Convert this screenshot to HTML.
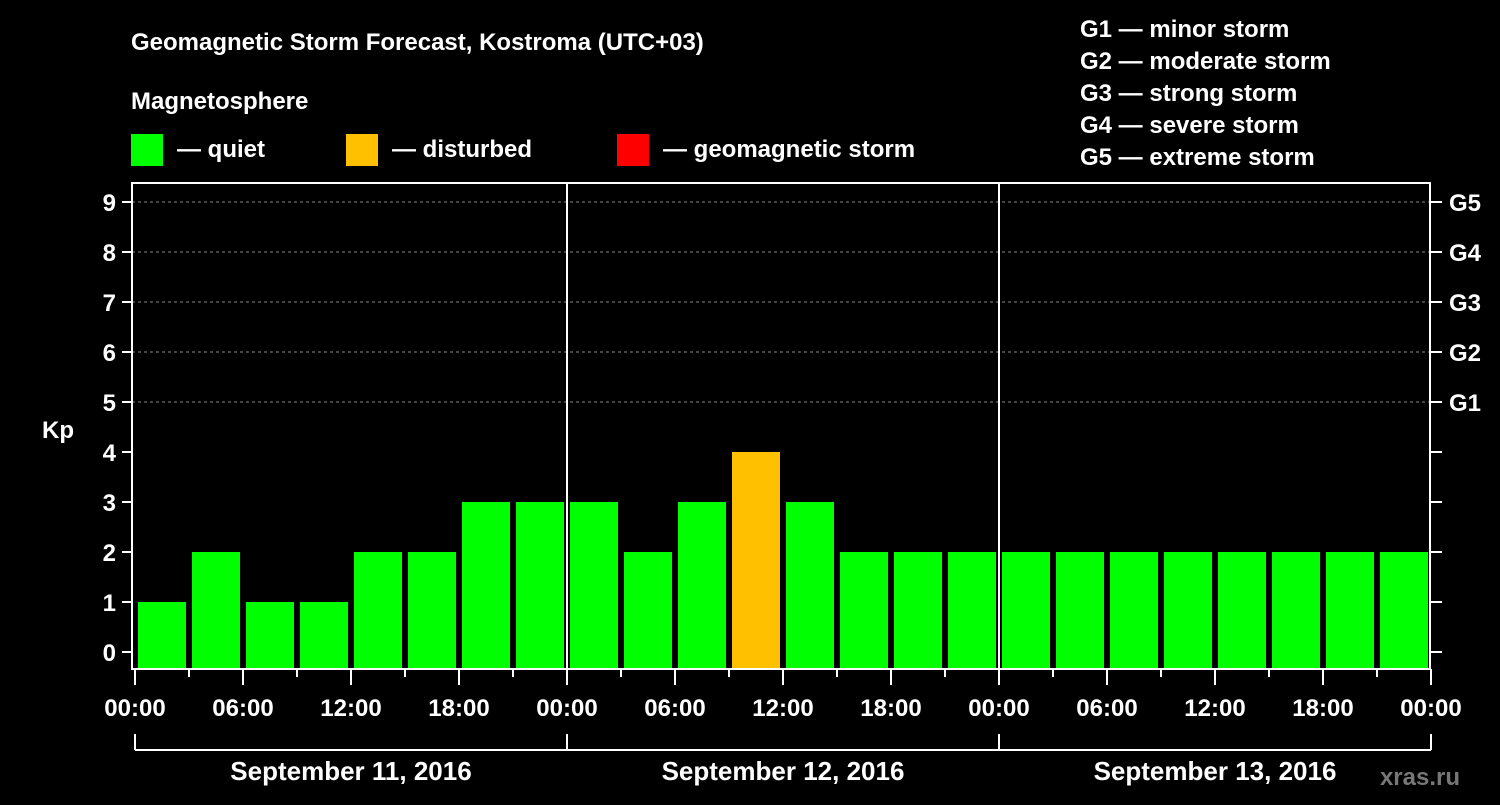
<!DOCTYPE html>
<html><head><meta charset="utf-8"><style>
body{margin:0;background:#000;width:1500px;height:800px;overflow:hidden}
svg text{font-family:"Liberation Sans",Arial,sans-serif;font-weight:bold;fill:#fff}
</style></head><body>
<svg id="c" width="1500" height="800">
<text x="131" y="50" font-size="24">Geomagnetic Storm Forecast, Kostroma (UTC+03)</text>
<text x="131" y="109" font-size="24">Magnetosphere</text>
<g><rect x="131" y="134" width="32" height="32" fill="#00ff00"/><text x="177" y="157" font-size="24">— quiet</text></g>
<g><rect x="346" y="134" width="32" height="32" fill="#ffc000"/><text x="392" y="157" font-size="24">— disturbed</text></g>
<g><rect x="617" y="134" width="32" height="32" fill="#ff0000"/><text x="663" y="157" font-size="24">— geomagnetic storm</text></g>
<g font-size="24">
<text x="1080" y="37">G1 — minor storm</text><text x="1080" y="69">G2 — moderate storm</text><text x="1080" y="101">G3 — strong storm</text><text x="1080" y="133">G4 — severe storm</text><text x="1080" y="165">G5 — extreme storm</text></g>
<text x="42" y="438" font-size="24">Kp</text>
<text x="1460" y="785" font-size="24" text-anchor="end" fill="#888" style="fill:#777">xras.ru</text>
<g id="plot"></g>
</svg>
<script>
const kpValues=[1,2,1,1,2,2,3,3,3,2,3,4,3,2,2,2,2,2,2,2,2,2,2,2];
const yTicks=[0,1,2,3,4,5,6,7,8,9];
const gLabels=["G1","G2","G3","G4","G5"];
const hourLabels=["00:00","06:00","12:00","18:00","00:00","06:00","12:00","18:00","00:00","06:00","12:00","18:00","00:00"];
const dayLabels=["September 11, 2016","September 12, 2016","September 13, 2016"];
const NS="http://www.w3.org/2000/svg";
const plot=document.getElementById('plot');
const X=h=>135+h*18;
const Y=v=>652-v*50;
function mk(tag,attrs,parent){const e=document.createElementNS(NS,tag);for(const k in attrs)e.setAttribute(k,attrs[k]);(parent||plot).appendChild(e);return e;}
// grid
for(const v of yTicks){
  if(v>=5){const l=mk('line',{x1:132,x2:1430,y1:Y(v),y2:Y(v),stroke:'#888','stroke-dasharray':'3,3','stroke-width':1});
  
  }
  const t=mk('line',{x1:122,x2:132,y1:Y(v),y2:Y(v),stroke:'#fff','stroke-width':2});
  const t2=mk('line',{x1:1430,x2:1442,y1:Y(v),y2:Y(v),stroke:'#fff','stroke-width':2});
  const lab=mk('text',{x:116,y:Y(v)+9,'font-size':24,'text-anchor':'end'});lab.textContent=v;
  
  
}
gLabels.forEach((g,i)=>{const t=mk('text',{x:1449,y:Y(5+i)+9,'font-size':24});t.textContent=g;
  
  });
// bars
kpValues.forEach((v,i)=>{
  const col=v>=5?'#ff0000':(v>=4?'#ffc000':'#00ff00');
  const r=mk('rect',{x:X(i*3)+3,y:Y(v),width:48,height:668-Y(v),fill:col});
  
  
});
// frame
mk('rect',{x:132,y:183,width:1298,height:486,fill:'none',stroke:'#fff','stroke-width':2});
[1,2].forEach(d=>mk('line',{x1:X(d*24),x2:X(d*24),y1:183,y2:669,stroke:'#fff','stroke-width':2}));
// x ticks
for(let h=0;h<=72;h+=3){mk('line',{x1:X(h),x2:X(h),y1:669,y2:h%6==0?685:677,stroke:'#fff','stroke-width':2});}
hourLabels.forEach((s,i)=>{const t=mk('text',{x:X(i*6),y:716,'font-size':24,'text-anchor':'middle'});t.textContent=s;
  
  });
// day brackets
mk('line',{x1:X(0),x2:X(72),y1:750,y2:750,stroke:'#fff','stroke-width':2});
for(let d=0;d<=3;d++)mk('line',{x1:X(d*24),x2:X(d*24),y1:734,y2:750,stroke:'#fff','stroke-width':2});
dayLabels.forEach((s,i)=>{const t=mk('text',{x:X(i*24+12),y:780,'font-size':26,'text-anchor':'middle'});t.textContent=s;
  
  });
</script>
</body></html>
